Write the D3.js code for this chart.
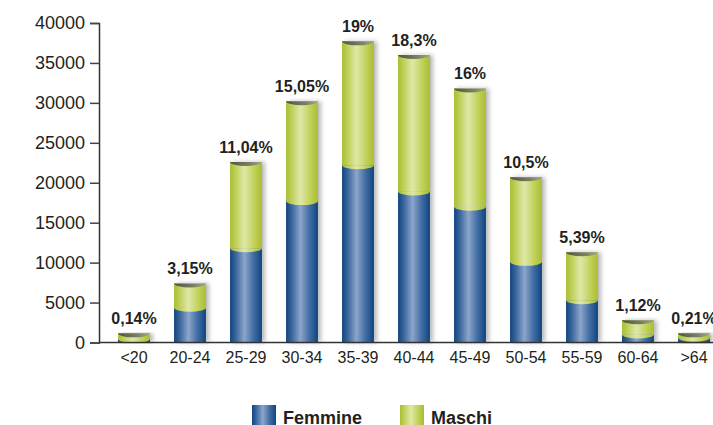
<!DOCTYPE html>
<html lang="it">

<head>
    <meta charset="UTF-8">
    <title>Distribuzione per età</title>
    <script src="https://d3js.org/d3.v7.min.js"></script>
    <style>
        body { margin: 0; background: #fff; }
        text { font-family: "Liberation Sans", Arial, sans-serif; fill: #231f20; }
    </style>
</head>

<body>
    <svg id="graph" width="713" height="425"></svg>

    <script>
        const ageGroups = ["<20", "20-24", "25-29", "30-34", "35-39", "40-44", "45-49", "50-54", "55-59", "60-64", ">64"];
        const femmine = [450, 4350, 11800, 17700, 22200, 18900, 17000, 10100, 5300, 1000, 600];
        const maschi = [700, 3050, 10800, 12500, 15500, 17100, 14800, 10600, 6000, 1800, 550];
        const pctLabels = ["0,14%", "3,15%", "11,04%", "15,05%", "19%", "18,3%", "16%", "10,5%", "5,39%", "1,12%", "0,21%"];
        const yTicks = [0, 5000, 10000, 15000, 20000, 25000, 30000, 35000, 40000];
        const seriesNames = ["Femmine", "Maschi"];

        const svg = d3.select("#graph");
        const axisX = 99;
        const baseY = 342.5;

        const x = d3.scaleBand()
            .domain(ageGroups)
            .range([106, 722])
            .paddingInner(0.43)
            .paddingOuter(0.215);

        const y = d3.scaleLinear()
            .domain([0, 40000])
            .range([baseY, 23]);

        // gradients for the cylinder look
        const defs = svg.append("defs");
        const addGrad = (id, stops) => {
            const g = defs.append("linearGradient").attr("id", id)
                .attr("x1", "0%").attr("x2", "100%").attr("y1", "0%").attr("y2", "0%");
            stops.forEach(s => g.append("stop").attr("offset", s[0]).attr("stop-color", s[1]));
        };
        addGrad("blueGrad", [["0%", "#124681"], ["18%", "#3b659d"], ["45%", "#8ba6cb"], ["75%", "#3e6aa1"], ["100%", "#114580"]]);
        addGrad("greenGrad", [["0%", "#aabd32"], ["18%", "#c0d05a"], ["45%", "#e0e8a8"], ["75%", "#c2d25c"], ["100%", "#aabd30"]]);
        addGrad("capGrad", [["0%", "#4e5440"], ["60%", "#7a7f63"], ["100%", "#a3a78a"]]);

        const shadow = defs.append("filter").attr("id", "shadow")
            .attr("x", "-20%").attr("y", "-10%").attr("width", "160%").attr("height", "120%");
        shadow.append("feDropShadow")
            .attr("dx", 3).attr("dy", 0).attr("stdDeviation", 2)
            .attr("flood-color", "#000").attr("flood-opacity", 0.28);

        // y axis
        const yAxis = d3.axisLeft(y).tickValues(yTicks).tickSize(9).tickPadding(5).tickFormat(d3.format("d"));
        const yG = svg.append("g")
            .attr("transform", `translate(${axisX},0)`)
            .call(yAxis);
        yG.select(".domain").attr("stroke", "#333").attr("stroke-width", 1.5);
        yG.selectAll(".tick line").attr("stroke", "#444").attr("stroke-width", 1.5);
        yG.selectAll(".tick text")
            .attr("font-size", 18)
            .attr("font-family", "Liberation Sans, Arial, sans-serif")
            .attr("fill", "#231f20");

        // bars
        const ry = 4;
        const bars = svg.append("g").selectAll("g.bar")
            .data(ageGroups.map((g, i) => ({ g, f: femmine[i], m: maschi[i], pct: pctLabels[i] })))
            .join("g")
            .attr("class", "bar");

        const halfEllipse = (x0, x1, yy) =>
            `M${x0},${yy} A${(x1 - x0) / 2},${ry} 0 0 0 ${x1},${yy} Z`;

        bars.each(function (d) {
            const g = d3.select(this);
            const x0 = x(d.g);
            const w = x.bandwidth();
            const yF = y(d.f);
            const yT = y(d.f + d.m);

            const body = g.append("g").attr("filter", "url(#shadow)");
            body.append("rect")
                .attr("x", x0).attr("y", yF)
                .attr("width", w).attr("height", baseY - yF)
                .attr("fill", "url(#blueGrad)");
            body.append("rect")
                .attr("x", x0).attr("y", yT)
                .attr("width", w).attr("height", yF - yT)
                .attr("fill", "url(#greenGrad)");
            g.append("path")
                .attr("d", halfEllipse(x0, x0 + w, yF))
                .attr("fill", "url(#greenGrad)");
            g.append("path")
                .attr("d", halfEllipse(x0, x0 + w, yT))
                .attr("fill", "url(#capGrad)");

            g.append("text")
                .attr("x", x0 + w / 2)
                .attr("y", yT - 9)
                .attr("text-anchor", "middle")
                .attr("font-size", 16)
                .attr("font-weight", "bold")
                .text(d.pct);
        });

        // x axis
        const xAxis = d3.axisBottom(x).tickSize(0).tickPadding(9);
        const xG = svg.append("g")
            .attr("transform", `translate(0,${baseY})`)
            .call(xAxis);
        xG.select(".domain").remove();
        xG.selectAll(".tick text")
            .attr("font-size", 16)
            .attr("font-family", "Liberation Sans, Arial, sans-serif")
            .attr("fill", "#231f20");
        svg.append("line")
            .attr("x1", axisX).attr("x2", 713)
            .attr("y1", baseY).attr("y2", baseY)
            .attr("stroke", "#333").attr("stroke-width", 1.5);

        // legend
        const legendX = [252, 400];
        const legend = svg.append("g").selectAll("g")
            .data(seriesNames)
            .join("g")
            .attr("transform", (d, i) => `translate(${legendX[i]},405)`);
        legend.append("rect")
            .attr("width", 24).attr("height", 24)
            .attr("fill", (d, i) => i === 0 ? "url(#blueGrad)" : "url(#greenGrad)");
        legend.append("text")
            .attr("x", 31).attr("y", 19)
            .attr("font-size", 18)
            .attr("font-weight", "bold")
            .text(d => d);
    </script>
</body>

</html>
